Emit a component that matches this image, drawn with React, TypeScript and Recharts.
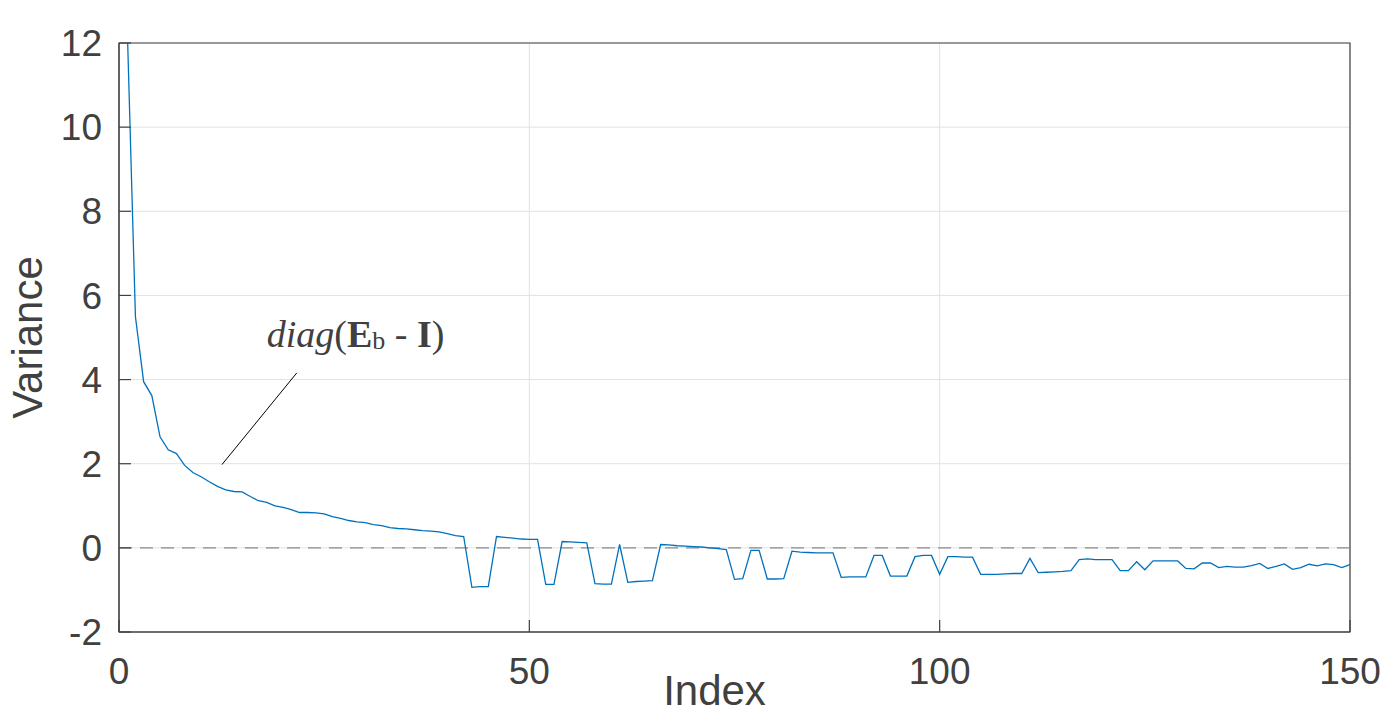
import {
  LineChart,
  Line,
  XAxis,
  YAxis,
  CartesianGrid,
  ReferenceLine,
  ReferenceArea,
  ReferenceDot,
} from 'recharts';

// variance per index, index runs 1..150
const variance = [
  12.4, 5.5, 3.95, 3.62, 2.64, 2.33, 2.24, 1.96, 1.79, 1.69,
  1.57, 1.46, 1.38, 1.34, 1.33, 1.22, 1.12, 1.08, 1.0, 0.96,
  0.91, 0.84, 0.84, 0.83, 0.81, 0.74, 0.7, 0.65, 0.62, 0.6,
  0.55, 0.53, 0.48, 0.46, 0.45, 0.43, 0.41, 0.4, 0.38, 0.34,
  0.29, 0.27, -0.94, -0.92, -0.92, 0.27, 0.25, 0.23, 0.21, 0.2,
  0.2, -0.87, -0.87, 0.15, 0.14, 0.13, 0.12, -0.85, -0.86, -0.86,
  0.08, -0.82, -0.8, -0.79, -0.78, 0.08, 0.07, 0.05, 0.04, 0.03,
  0.02, 0.0, -0.02, -0.04, -0.75, -0.73, -0.06, -0.06, -0.74, -0.74,
  -0.73, -0.08, -0.1, -0.11, -0.12, -0.12, -0.12, -0.7, -0.69, -0.69,
  -0.69, -0.18, -0.18, -0.67, -0.67, -0.67, -0.21, -0.18, -0.18, -0.63,
  -0.21, -0.21, -0.22, -0.22, -0.63, -0.63, -0.63, -0.62, -0.61, -0.61,
  -0.25, -0.59, -0.58, -0.57, -0.56, -0.54, -0.28, -0.26, -0.28, -0.28,
  -0.28, -0.54, -0.54, -0.33, -0.52, -0.31, -0.31, -0.31, -0.31, -0.49,
  -0.5, -0.36, -0.36, -0.47, -0.44, -0.46, -0.46, -0.42, -0.37, -0.49,
  -0.44, -0.38, -0.51, -0.47, -0.39, -0.43, -0.38, -0.4, -0.47, -0.4,
];

const xTicks = [0, 50, 100, 150];
const yTicks = [-2, 0, 2, 4, 6, 8, 10, 12];

// annotation: text anchor and leader line, in data units
const notePos = { x: 18, y: 4.78 };
const leaderLine = [
  { x: 12.55, y: 1.98 },
  { x: 21.67, y: 4.16 },
];

const data = variance.map((v, i) => ({ index: i + 1, variance: v }));

const SANS = '"Liberation Sans", Arial, Helvetica, sans-serif';
const SERIF = '"Liberation Serif", "Times New Roman", serif';
const TEXT = '#404040';
const TICK_FONT = 37;
const TICK_LEN = 12;
const Y_GAP = 17; // label to axis
const X_GAP = 26; // axis to label top

// ticks point inward like matlab's, so draw the tick mark along with the label
function YTick(props: any) {
  const { x, y, payload } = props;
  return (
    <g>
      <line x1={x + Y_GAP} x2={x + Y_GAP + TICK_LEN} y1={y} y2={y} stroke={TEXT} strokeWidth={1.2} />
      <text x={x} y={y} dy="0.355em" textAnchor="end" fontFamily={SANS} fontSize={TICK_FONT} fill={TEXT}>
        {payload.value}
      </text>
    </g>
  );
}

function XTick(props: any) {
  const { x, y, payload } = props;
  return (
    <g>
      <line x1={x} x2={x} y1={y - X_GAP} y2={y - X_GAP - TICK_LEN} stroke={TEXT} strokeWidth={1.2} />
      <text x={x} y={y} dy="0.71em" textAnchor="middle" fontFamily={SANS} fontSize={TICK_FONT} fill={TEXT}>
        {payload.value}
      </text>
    </g>
  );
}

function renderNote(props: any) {
  const { x, y } = props.viewBox;
  return (
    <text x={x} y={y} fontFamily={SERIF} fontSize={38} fill={TEXT}>
      <tspan fontStyle="italic">diag</tspan>
      <tspan>(</tspan>
      <tspan fontWeight="bold">E</tspan>
      <tspan fontSize={26} dy={2}>b</tspan>
      <tspan dy={-2}> - </tspan>
      <tspan fontWeight="bold">I</tspan>
      <tspan>)</tspan>
    </text>
  );
}

function renderYLabel(props: any) {
  const vb = props.viewBox;
  const cx = vb.x + vb.width - 77;
  const cy = vb.y + vb.height / 2;
  return (
    <text
      x={cx}
      y={cy}
      transform={`rotate(-90 ${cx} ${cy})`}
      textAnchor="middle"
      fontFamily={SANS}
      fontSize={42}
      fill={TEXT}
    >
      Variance
    </text>
  );
}

function renderXLabel(props: any) {
  const vb = props.viewBox;
  return (
    <text
      x={vb.x + vb.width / 2 - 20}
      y={vb.y + 73}
      textAnchor="middle"
      fontFamily={SANS}
      fontSize={42}
      fill={TEXT}
    >
      Index
    </text>
  );
}

export default function App() {
  return (
    <div style={{ position: 'absolute', left: 0, top: 0, background: '#fff' }}>
      <LineChart
        width={1396}
        height={718}
        data={data}
        margin={{ top: 43, right: 46, bottom: 0, left: 0 }}
      >
        <CartesianGrid stroke="#e2e2e2" strokeWidth={1} />
        <XAxis
          dataKey="index"
          type="number"
          domain={[0, 150]}
          ticks={xTicks}
          height={86}
          stroke={TEXT}
          tickSize={0}
          tickMargin={X_GAP}
          tickLine={false}
          tick={<XTick />}
          label={{ content: renderXLabel }}
        />
        <YAxis
          type="number"
          domain={[-2, 12]}
          ticks={yTicks}
          allowDataOverflow
          width={119}
          stroke={TEXT}
          tickSize={0}
          tickMargin={Y_GAP}
          tickLine={false}
          tick={<YTick />}
          label={{ content: renderYLabel }}
        />
        <ReferenceArea
          x1={0}
          x2={150}
          y1={-2}
          y2={12}
          fill="none"
          stroke={TEXT}
          strokeWidth={1.2}
        />
        <ReferenceLine y={0} stroke="#8a8a8a" strokeWidth={1.3} strokeDasharray="13 8" />
        <ReferenceLine segment={leaderLine} stroke="#000" strokeWidth={1} />
        <ReferenceDot x={notePos.x} y={notePos.y} r={0} fill="none" stroke="none" label={renderNote} />
        <Line
          type="linear"
          dataKey="variance"
          stroke="#0072BD"
          strokeWidth={1.3}
          dot={false}
          isAnimationActive={false}
        />
      </LineChart>
    </div>
  );
}
